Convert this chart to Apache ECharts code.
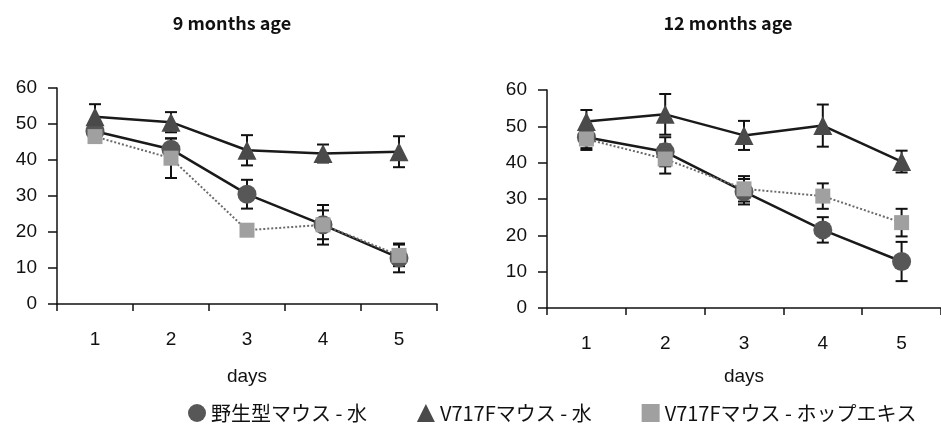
<!DOCTYPE html>
<html>
<head>
<meta charset="utf-8">
<script src="https://cdn.jsdelivr.net/npm/echarts@6/dist/echarts.min.js"></script>
<style>
html,body{margin:0;padding:0;background:#fff;}
#chart{width:941px;height:436px;}
</style>
</head>
<body>
<div id="chart"></div>
<script>
// ---- data ----
const days = ['1', '2', '3', '4', '5'];
const titles = ['9 months age', '12 months age'];
const seriesNames = ['野生型マウス - 水', 'V717Fマウス - 水', 'V717Fマウス - ホップエキス'];

// 9 months
const wt9 = [48, 43, 30.5, 22, 12.8];
const wt9Err = [3, 3, 4, 5.5, 4];
const tg9 = [52, 50.5, 42.7, 41.8, 42.3];
const tg9Err = [3.5, 2.8, 4.2, 2.5, 4.3];
const hop9 = [46.5, 40.5, 20.5, 22, 13.5];
const hop9Err = [1.5, 5.5, 1.5, 4, 3];

// 12 months
const wt12 = [47, 43, 32, 21.5, 12.8];
const wt12Err = [3, 4, 3.5, 3.5, 5.4];
const tg12 = [51.3, 53.3, 47.5, 50.2, 40.3];
const tg12Err = [3.2, 5.6, 4, 5.8, 3];
const hop12 = [46.5, 41, 32.8, 30.8, 23.5];
const hop12Err = [3, 4, 3.5, 3.5, 3.8];

const yTicks = {min: 0, max: 60, interval: 10};

// ---- chart ----
const FONT = 'Liberation Sans, Arial, sans-serif';
const JFONT = '"Noto Sans CJK JP", sans-serif';

const styles = [
  {symbol: 'circle', size: 19, fill: '#575757', line: {color: '#1a1a1a', width: 2.5, type: 'solid'}},
  {symbol: 'triangle', size: 19, fill: '#4a4a4a', line: {color: '#1a1a1a', width: 2.5, type: 'solid'}},
  {symbol: 'rect', size: 15, fill: '#a0a0a0', line: {color: '#6a6a6a', width: 2, type: 'dotted'}}
];

function errRender(params, api) {
  const x = api.value(0);
  const lo = api.coord([x, api.value(1)]);
  const hi = api.coord([x, api.value(2)]);
  const hw = 6;
  const st = {stroke: '#111', lineWidth: 2};
  return {
    type: 'group',
    children: [
      {type: 'line', shape: {x1: lo[0], y1: lo[1], x2: hi[0], y2: hi[1]}, style: st},
      {type: 'line', shape: {x1: lo[0] - hw, y1: lo[1], x2: lo[0] + hw, y2: lo[1]}, style: st},
      {type: 'line', shape: {x1: hi[0] - hw, y1: hi[1], x2: hi[0] + hw, y2: hi[1]}, style: st}
    ]
  };
}

function errData(v, e) {
  return days.map((d, i) => [i, v[i] - e[i], v[i] + e[i]]);
}

const panels = [
  {vals: [wt9, tg9, hop9], errs: [wt9Err, tg9Err, hop9Err]},
  {vals: [wt12, tg12, hop12], errs: [wt12Err, tg12Err, hop12Err]}
];

const grids = [
  {left: 57, top: 88, width: 380, height: 216},
  {left: 547, top: 90, width: 394, height: 218}
];

const xAxes = grids.map((g, k) => ({
  type: 'category', gridIndex: k, data: days, boundaryGap: true,
  axisLine: {lineStyle: {color: '#111', width: 1.5}},
  axisTick: {show: true, interval: 0, length: 7, lineStyle: {color: '#111', width: 1.5}},
  axisLabel: {margin: 26, fontSize: 19, color: '#111', fontFamily: FONT},
  name: 'days', nameLocation: 'middle', nameGap: k === 0 ? 63 : 59,
  nameTextStyle: {fontSize: 19, color: '#111', fontFamily: FONT}
}));

const yAxes = grids.map((g, k) => ({
  type: 'value', gridIndex: k, min: yTicks.min, max: yTicks.max, interval: yTicks.interval,
  splitLine: {show: false},
  axisLine: {show: true, lineStyle: {color: '#111', width: 1.5}},
  axisTick: {show: true, length: 9, lineStyle: {color: '#111', width: 1.5}},
  axisLabel: {margin: 20, fontSize: 19, color: '#111', fontFamily: FONT}
}));

const series = [];
panels.forEach((p, k) => {
  p.vals.forEach((v, s) => {
    series.push({
      name: seriesNames[s] + '_err', type: 'custom', xAxisIndex: k, yAxisIndex: k,
      renderItem: errRender, data: errData(v, p.errs[s]), z: 1,
      encode: {x: 0, y: [1, 2]}, silent: true
    });
  });
  [2, 0, 1].forEach((s) => {
    const st = styles[s];
    series.push({
      name: seriesNames[s], type: 'line', xAxisIndex: k, yAxisIndex: k,
      data: p.vals[s], symbol: st.symbol, symbolSize: st.size,
      itemStyle: {color: st.fill, borderWidth: 0, opacity: 1},
      lineStyle: st.line, z: 3 + s, animation: false
    });
  });
});

const option = {
  animation: false,
  backgroundColor: '#fff',
  grid: grids,
  xAxis: xAxes,
  yAxis: yAxes,
  legend: {
    left: 183, top: 398, itemGap: 50, itemWidth: 18, itemHeight: 18,
    textStyle: {fontSize: 20, color: '#111', fontFamily: JFONT},
    data: [
      {name: seriesNames[0], icon: 'circle', itemStyle: {color: styles[0].fill}},
      {name: seriesNames[1], icon: 'triangle', itemStyle: {color: styles[1].fill}},
      {name: seriesNames[2], icon: 'rect', itemStyle: {color: styles[2].fill}}
    ],
    selectedMode: false
  },
  graphic: [
    {type: 'text', x: 232, y: 14, style: {text: titles[0], fontSize: 18, fontWeight: 'bold', fill: '#111', fontFamily: JFONT, align: 'center'}},
    {type: 'text', x: 728, y: 14, style: {text: titles[1], fontSize: 18, fontWeight: 'bold', fill: '#111', fontFamily: JFONT, align: 'center'}}
  ],
  series: series
};

const chart = echarts.init(document.getElementById('chart'), null, {renderer: 'canvas'});
chart.setOption(option);
</script>
</body>
</html>
